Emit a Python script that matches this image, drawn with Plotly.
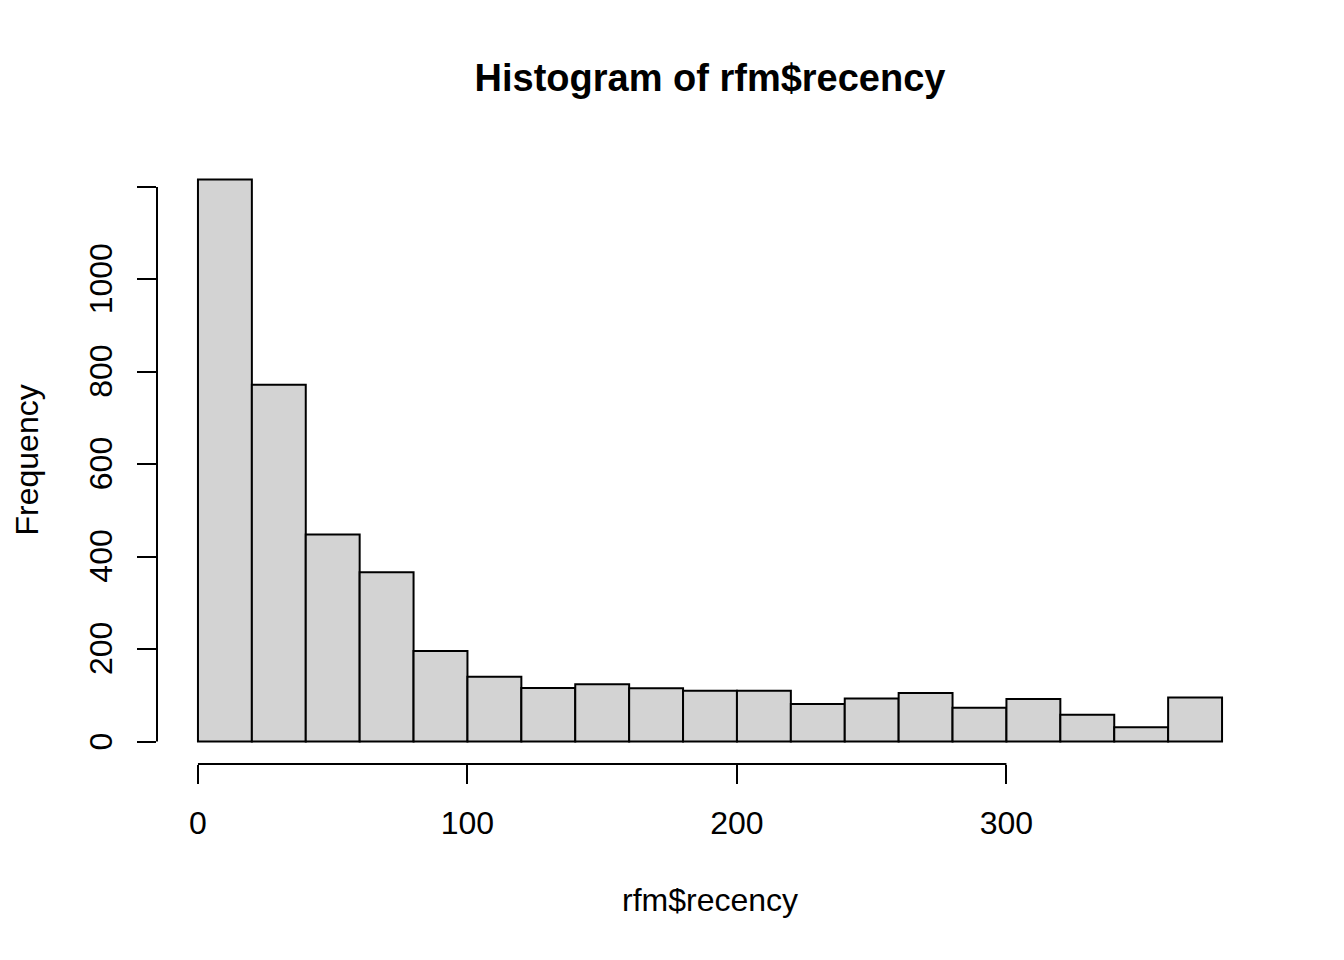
import plotly.graph_objects as go

# histogram of rfm$recency, bins of width 20
bin_edges = [0, 20, 40, 60, 80, 100, 120, 140, 160, 180, 200,
             220, 240, 260, 280, 300, 320, 340, 360, 380]
counts = [1216, 772, 448, 366, 196, 140, 116, 124, 115, 110,
          110, 81, 93, 105, 73, 92, 58, 31, 95]
x_ticks = [0, 100, 200, 300]
y_ticks = [0, 200, 400, 600, 800, 1000, 1200]
y_labels = ["0", "200", "400", "600", "800", "1000", ""]

centers = [(a + b) / 2 for a, b in zip(bin_edges[:-1], bin_edges[1:])]
widths = [b - a for a, b in zip(bin_edges[:-1], bin_edges[1:])]

font = "Liberation Sans, Arial, sans-serif"

fig = go.Figure(go.Bar(
    x=centers, y=counts, width=widths,
    marker=dict(color="#D3D3D3", line=dict(color="black", width=2)),
    hoverinfo="x+y",
))

# R style: plot region padded 4% beyond the data range
xpad = (bin_edges[-1] - bin_edges[0]) * 0.04
ypad = max(counts) * 0.04

# rotated y tick labels as annotations so they sit centred on their ticks
plot_w = 1344 - 157 - 81
ylab_ann = [dict(text=t, xref="paper", yref="y", x=-(157 - 101) / plot_w, y=v,
                 xanchor="center", yanchor="middle", textangle=-90, showarrow=False,
                 font=dict(size=32))
            for v, t in zip(y_ticks, y_labels) if t]

fig.update_layout(
    width=1344, height=960,
    margin=dict(l=157, r=81, t=157, b=196),
    plot_bgcolor="white", paper_bgcolor="white",
    showlegend=False,
    font=dict(family=font, size=32, color="black"),
    title=dict(text="<b>Histogram of rfm$recency</b>", x=(157 + (1344 - 81)) / 2 / 1344,
               xanchor="center", y=1 - 78 / 960, yanchor="middle",
               font=dict(size=38, family=font, color="black")),
    xaxis=dict(range=[bin_edges[0] - xpad, bin_edges[-1] + xpad],
               tickvals=x_ticks, ticks="outside", ticklen=19, tickwidth=2,
               tickcolor="black", showgrid=False, zeroline=False, showline=False,
               ticklabelstandoff=12, tickfont=dict(size=32)),
    yaxis=dict(range=[-ypad, max(counts) + ypad],
               tickvals=y_ticks, ticks="outside", ticklen=19,
               tickwidth=2, tickcolor="black", showgrid=False, zeroline=False,
               showline=False, showticklabels=False),
    annotations=ylab_ann + [
        dict(text="rfm$recency", xref="paper", yref="paper", x=0.5, y=-(900 - 764) / (764 - 157),
             xanchor="center", yanchor="middle", showarrow=False, font=dict(size=32)),
        dict(text="Frequency", xref="paper", yref="paper", x=-(157 - 26) / plot_w, y=0.5,
             xanchor="center", yanchor="middle", textangle=-90, showarrow=False,
             font=dict(size=32)),
    ],
)

# axis lines only span the tick range, as in base R
fig.add_shape(type="line", xref="x", yref="paper", x0=x_ticks[0], x1=x_ticks[-1], y0=0, y1=0,
              line=dict(color="black", width=2))
fig.add_shape(type="line", xref="paper", yref="y", x0=0, x1=0, y0=y_ticks[0], y1=y_ticks[-1],
              line=dict(color="black", width=2))

# drop the browser's default body margin so the figure sits at (0, 0)
fig.write_html("out.html", config={"displayModeBar": False},
               post_script="document.body.style.margin='0';")
